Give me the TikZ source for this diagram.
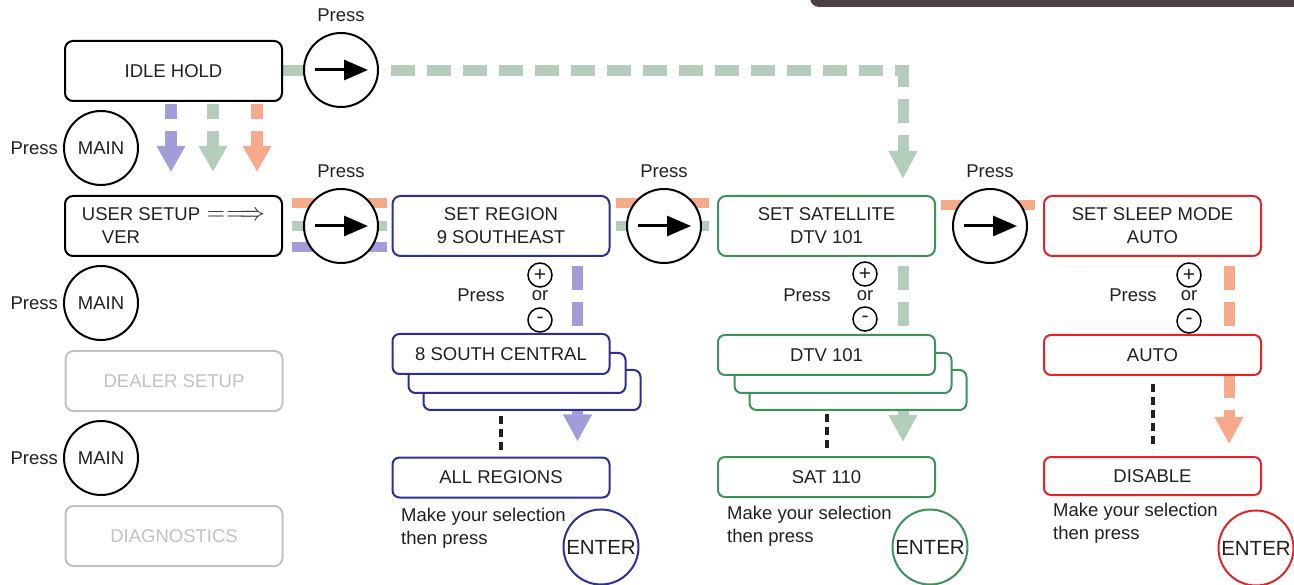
\documentclass[tikz,border=0pt]{standalone}
\usepackage{fontspec}
\setmainfont{Liberation Sans}
\usetikzlibrary{positioning,arrows.meta,backgrounds}

\definecolor{ink}{RGB}{35,31,32}
\definecolor{boxblue}{RGB}{43,48,145}
\definecolor{boxgreen}{RGB}{62,145,90}
\definecolor{boxred}{RGB}{226,35,40}
\definecolor{flowpurple}{RGB}{160,157,216}
\definecolor{flowgreen}{RGB}{180,205,188}
\definecolor{floworange}{RGB}{246,170,140}
\definecolor{dimgrey}{RGB}{198,192,192}
\definecolor{topbar}{RGB}{75,65,66}

\tikzset{
    txt/.style={font=\fontsize{18.5}{23}\selectfont, text=ink, inner sep=0pt},
    menubox/.style={txt, draw=#1, line width=2pt, rounded corners=8pt, fill=white,
        minimum width=217pt, minimum height=60pt, align=center},
    menubox/.default=black,
    listbox/.style={menubox=#1, minimum height=40pt, rounded corners=7pt},
    listbox/.default=black,
    seltext/.style={txt, font=\fontsize{18.5}{22.5}\selectfont, align=left, anchor=north west},
    pressbtn/.style={circle, draw=black, line width=2pt, fill=white, minimum size=74pt, inner sep=0pt,
        path picture={\draw[line width=3pt, -{Triangle[length=24pt,width=20pt]}]
            ([xshift=-26pt]path picture bounding box.center) -- ([xshift=27pt]path picture bounding box.center);}},
    mainbtn/.style={txt, circle, draw=black, line width=2pt, fill=white, minimum size=74pt},
    enterbtn/.style={circle, draw=#1, line width=2pt, fill=white, minimum size=75pt, inner sep=0pt,
        text=ink, font=\fontsize{20.5}{24}\selectfont},
    pmbtn/.style={circle, draw=black, line width=1.5pt, fill=white, minimum size=24pt, inner sep=0pt,
        text=ink, font=\fontsize{21}{21}\selectfont},
    flow/.style={line width=11pt, dash pattern=on 24pt off 12pt},
    shortflow/.style={line width=12pt, dash pattern=on 15pt off 12pt},
    flowtip/.style={-{Triangle[length=#1,width=27pt,sep=10pt]}},
    flowtip/.default=27pt,
    crosslink/.style={line width=10pt},
    dotline/.style={draw=ink, line width=4pt, dash pattern=on 8pt off 5pt},
}

\begin{document}
\begin{tikzpicture}[x=1pt,y=-1pt]
    \useasboundingbox (0,0) rectangle (1294,585);
    \clip (0,0) rectangle (1294,585);

    % Top bar
    \fill[topbar, rounded corners=9pt] (810,-20) -- (810,7) -- (1320,7) -- (1320,-20) -- cycle;

    % Main menu column
    \node[menubox] (idle) at (173.5,71) {IDLE HOLD};
    \node[mainbtn] (main1) at (101,148) {MAIN};
    \node[menubox, align=left] (user) at (173.5,226)
        {USER SETUP\hspace{7pt}{\fontsize{24}{23}\selectfont$=\mkern1mu\Longrightarrow$}\\\hspace*{20pt}VER};
    \node[mainbtn] (main2) at (101,303) {MAIN};
    \node[menubox=dimgrey, text=dimgrey] (dealer) at (174,381) {DEALER SETUP};
    \node[mainbtn] (main3) at (101,458) {MAIN};
    \node[menubox=dimgrey, text=dimgrey] (diag) at (174,536) {DIAGNOSTICS};
    \foreach \b in {main1,main2,main3}
        \node[txt, left=5pt of \b] (press-\b) {Press};

    % Press buttons
    \node[pressbtn] (p1) at (341,70) {};
    \node[pressbtn] (p2) at (341,226) {};
    \node[pressbtn] (p3) at (664,226) {};
    \node[pressbtn] (p4) at (990,226) {};
    \foreach \b in {p1,p2,p3,p4}
        \node[txt, above=10pt of \b] (press-\b) {Press};

    % Region column
    \node[menubox=boxblue] (region) at (501,226) {SET REGION\\9 SOUTHEAST};
    \node[txt] (pressR) at (481,295) {Press};
    \node[pmbtn] (plusR) at (540,275) {+};
    \node[txt] (orR) at (540,296) {or};
    \node[pmbtn] (minusR) at (540,320) {-};
    \node[listbox=boxblue] (stackR3) at (532,390) {};
    \node[listbox=boxblue] (stackR2) at (517,373) {};
    \node[listbox=boxblue] (stackR) at (501,354) {8 SOUTH CENTRAL};
    \node[listbox=boxblue] (allreg) at (501,477.5) {ALL REGIONS};
    \node[seltext] (selR) at (401,508) {Make your selection\\then press};
    \node[enterbtn=boxblue] (enterR) at (601,547) {ENTER};

    % Satellite column
    \node[menubox=boxgreen] (satellite) at (826.5,226) {SET SATELLITE\\DTV 101};
    \node[txt] (pressS) at (807,295) {Press};
    \node[pmbtn] (plusS) at (865,274) {+};
    \node[txt] (orS) at (865,296) {or};
    \node[pmbtn] (minusS) at (865,319) {-};
    \node[listbox=boxgreen] (stackS3) at (858,390) {};
    \node[listbox=boxgreen] (stackS2) at (843,373) {};
    \node[listbox=boxgreen] (stackS) at (826.5,355) {DTV 101};
    \node[listbox=boxgreen] (sat110) at (826.5,477) {SAT 110};
    \node[seltext] (selS) at (727,506) {Make your selection\\then press};
    \node[enterbtn=boxgreen] (enterS) at (930,547) {ENTER};

    % Sleep column
    \node[menubox=boxred] (sleep) at (1152.5,226) {SET SLEEP MODE\\AUTO};
    \node[txt] (pressL) at (1133,295) {Press};
    \node[pmbtn] (plusL) at (1189,275) {+};
    \node[txt] (orL) at (1189,296) {or};
    \node[pmbtn] (minusL) at (1189,321) {-};
    \node[listbox=boxred] (sleepAuto) at (1152.5,355) {AUTO};
    \node[listbox=boxred, minimum height=38pt] (sleepOff) at (1152.5,476) {DISABLE};
    \node[seltext] (selL) at (1053,503) {Make your selection\\then press};
    \node[enterbtn=boxred] (enterL) at (1256,548) {ENTER};

    % Dotted skips
    \draw[dotline, shorten <=5pt, shorten >=6pt] (stackR3.south -| allreg.north) -- (allreg.north);
    \draw[dotline, shorten <=3pt, shorten >=5pt] (stackS3.south -| sat110.north) -- (sat110.north);
    \draw[dotline, shorten <=8pt, shorten >=7pt] (sleepAuto.south) -- (sleepOff.north);

    % Flows behind everything
    \begin{scope}[on background layer]
        \coordinate (turn) at ([xshift=-33pt]satellite.north east |- idle.east);
        \draw[flow, flowgreen, flowtip=28pt, shorten >=6pt]
            (idle.east) -- (turn) -- ([xshift=-33pt]satellite.north east);
        \foreach \dx/\col in {-2.5/flowpurple, 39.5/flowgreen, 83.5/floworange}
            \draw[shortflow, color=\col, flowtip=26pt, shorten <=2pt, shorten >=13pt]
                ([xshift=\dx pt]idle.south) -- ([xshift=\dx pt]user.north);
        \foreach \dy/\col in {23/floworange, 0/flowgreen, -21/flowpurple}
            \draw[crosslink, color=\col, shorten <=9pt, shorten >=5pt]
                ([yshift=\dy pt]user.east) -- ([yshift=\dy pt]region.west);
        \foreach \dy/\col in {23/floworange, 0/flowgreen}
            \draw[crosslink, color=\col, shorten <=5pt, shorten >=8pt]
                ([yshift=\dy pt]region.east) -- ([yshift=\dy pt]satellite.west);
        \draw[crosslink, floworange, shorten <=5pt, shorten >=8pt]
            ([yshift=21pt]satellite.east) -- ([yshift=21pt]sleep.west);
        % Down the columns
        \draw[flow, flowpurple, flowtip, shorten <=9pt, shorten >=5pt]
            ([xshift=-33pt]region.south east) -- ([xshift=-33pt]allreg.north east);
        \draw[flow, flowgreen, flowtip, shorten <=9pt, shorten >=4pt]
            ([xshift=-33pt]satellite.south east) -- ([xshift=-33pt]sat110.north east);
        \draw[flow, floworange, flowtip, shorten <=9pt, shorten >=2pt]
            ([xshift=-33pt]sleep.south east) -- ([xshift=-33pt]sleepOff.north east);
    \end{scope}
\end{tikzpicture}
\end{document}
